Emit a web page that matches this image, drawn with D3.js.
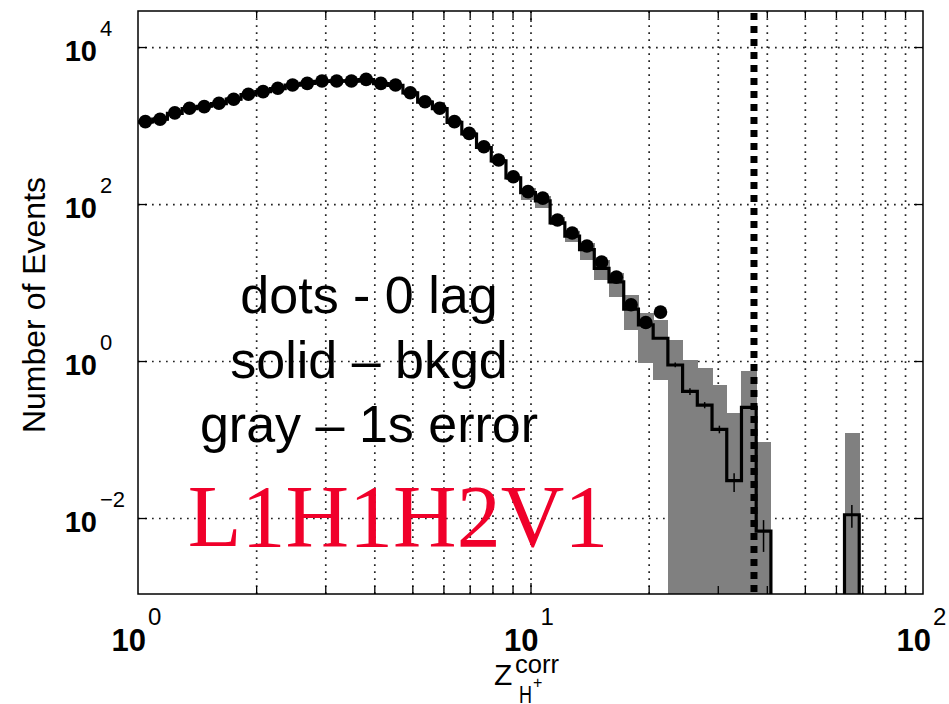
<!DOCTYPE html>
<html>
<head>
<meta charset="utf-8">
<script src="https://cdnjs.cloudflare.com/ajax/libs/d3/7.8.5/d3.min.js"></script>
<style>
  body { margin: 0; background: #fff; }
  svg { display: block; }
</style>
</head>
<body>
<div id="chart"></div>
<script>
// log10 width of one histogram bin, bins start at Z = 1
const binLog = 0.0375;

// dots - zero lag counts, one per bin
const zeroLag = [1120, 1200, 1450, 1660, 1740, 1920, 2160, 2500, 2700, 2980,
  3280, 3440, 3690, 3690, 3690, 3870, 3440, 3280, 2620, 2010,
  1660, 1120, 794, 537, 364, 223, 144, 119, 62.5, 42.8,
  29.2, 18.2, 11.7, 5.2, 3.1, 4.2];

// solid - background estimate
const background = [1110, 1210, 1430, 1640, 1760, 1900, 2170, 2480, 2710, 2960,
  3270, 3450, 3660, 3700, 3680, 3850, 3420, 3250, 2600, 1990,
  1640, 1100, 780, 525, 355, 215, 140, 110, 57.5, 38.9,
  26.3, 15.1, 10.2, 4.57, 2.88, 1.95, 0.89, 0.41, 0.275, 0.135,
  0.030, 0.257, 0.0068, 0, 0, 0, 0, 0, 0.011];

// gray - 1 sigma band
const bandHigh = [1170, 1270, 1500, 1720, 1850, 2000, 2280, 2600, 2850, 3110,
  3430, 3620, 3840, 3890, 3860, 4040, 3590, 3410, 2730, 2090,
  1720, 1160, 820, 555, 375, 230, 158, 126, 67.6, 45.7,
  31.6, 19.1, 13.2, 6.9, 4.07, 3.31, 1.86, 1.02, 0.81, 0.49,
  0.216, 0.74, 0.094, 0, 0, 0, 0, 0, 0.12];
const bandLow = [1050, 1150, 1360, 1560, 1670, 1800, 2060, 2360, 2570, 2810,
  3110, 3280, 3480, 3520, 3500, 3660, 3250, 3090, 2470, 1890,
  1560, 1045, 740, 500, 335, 203, 112, 89, 53.7, 33.1,
  19.5, 10.7, 6.6, 2.5, 0.95, 0.575, 0, 0, 0, 0,
  0, 0, 0, 0, 0, 0, 0, 0, 0];

// error bars drawn on the background line
const errBins = [36, 37, 38, 39, 40, 42, 48];
const errLow = [0.83, 0.37, 0.25, 0.12, 0.0214, 0.0037, 0.0075];
const errHigh = [0.96, 0.45, 0.30, 0.15, 0.0373, 0.0094, 0.0147];

const threshold = 37.1;

const xMajor = [1, 10, 100];
const xMinor = [2, 3, 4, 5, 6, 7, 8, 9, 20, 30, 40, 50, 60, 70, 80, 90];
const yTicks = [1e-2, 1, 1e2, 1e4];
const yExp = ['\u22122', '0', '2', '4'];
const xExp = ['0', '1', '2'];

var left = 138, right = 923, top_ = 11, bottom = 594;

var svg = d3.select('#chart').append('svg')
  .attr('width', 949)
  .attr('height', 704);

var x = d3.scaleLog().domain([1, 100]).range([left, right]);
var y = d3.scaleLog().domain([Math.pow(10, -2.968), Math.pow(10, 4.459)]).range([bottom, top_]);

function yv(v) { return v > 0 ? y(v) : bottom + 20; }
function edge(k) { return Math.pow(10, binLog * k); }
function center(k) { return Math.pow(10, binLog * (k + 0.5)); }

svg.append('clipPath').attr('id', 'plot')
  .append('rect')
    .attr('x', left).attr('y', top_)
    .attr('width', right - left).attr('height', bottom - top_);

// dotted grid
var grid = svg.append('g');
grid.append('g')
  .attr('transform', 'translate(0,' + bottom + ')')
  .call(d3.axisBottom(x).tickValues(xMinor.concat([10])).tickSize(-(bottom - top_)).tickFormat(''));
grid.append('g')
  .attr('transform', 'translate(' + left + ',0)')
  .call(d3.axisLeft(y).tickValues(yTicks).tickSize(-(right - left)).tickFormat(''));
grid.selectAll('.domain').remove();
grid.selectAll('line')
  .attr('stroke', '#222')
  .attr('stroke-width', 1.7)
  .attr('stroke-dasharray', '1.7,5.3');

var plot = svg.append('g').attr('clip-path', 'url(#plot)');

// gray error band
plot.selectAll('rect.band')
  .data(d3.range(background.length).filter(i => bandHigh[i] > 0))
  .enter()
  .append('rect')
    .attr('class', 'band')
    .attr('x', i => x(edge(i)))
    .attr('width', i => x(edge(i + 1)) - x(edge(i)) + 0.5)
    .attr('y', i => yv(bandHigh[i]))
    .attr('height', i => yv(bandLow[i]) - yv(bandHigh[i]))
    .attr('fill', '#808080')
    .attr('shape-rendering', 'crispEdges');

// background step line
var pts = background.map((d, i) => [edge(i), d]);
pts.push([edge(background.length), 0]);
var step = d3.line()
  .x(d => x(d[0]))
  .y(d => yv(d[1]))
  .curve(d3.curveStepAfter);
plot.append('path')
  .attr('d', step(pts))
  .attr('fill', 'none')
  .attr('stroke', '#000')
  .attr('stroke-width', 3.2);

// error bars
plot.selectAll('line.err')
  .data(errBins)
  .enter()
  .append('line')
    .attr('x1', (d) => x(center(d)))
    .attr('x2', (d) => x(center(d)))
    .attr('y1', (d, i) => y(errLow[i]))
    .attr('y2', (d, i) => y(errHigh[i]))
    .attr('stroke', '#000')
    .attr('stroke-width', 1.5);

// zero lag dots
plot.selectAll('circle')
  .data(zeroLag)
  .enter()
  .append('circle')
    .attr('cx', (d, i) => x(center(i)))
    .attr('cy', d => y(d))
    .attr('r', 6.8)
    .attr('fill', '#000');

// threshold
plot.append('line')
  .attr('x1', x(threshold)).attr('x2', x(threshold))
  .attr('y1', top_ + 2).attr('y2', bottom)
  .attr('stroke', '#000')
  .attr('stroke-width', 7)
  .attr('stroke-dasharray', '7,6');

// frame
svg.append('rect')
  .attr('x', left).attr('y', top_)
  .attr('width', right - left).attr('height', bottom - top_)
  .attr('fill', 'none')
  .attr('stroke', '#000')
  .attr('stroke-width', 1.5);

// inward ticks on all four sides
var ticks = svg.append('g');
ticks.append('g').attr('transform', 'translate(0,' + bottom + ')')
  .call(d3.axisBottom(x).tickValues(xMinor).tickSizeInner(-8).tickSizeOuter(0).tickFormat(''));
ticks.append('g').attr('transform', 'translate(0,' + top_ + ')')
  .call(d3.axisTop(x).tickValues(xMinor).tickSizeInner(-7).tickSizeOuter(0).tickFormat(''));
ticks.append('g').attr('transform', 'translate(0,' + bottom + ')')
  .call(d3.axisBottom(x).tickValues([10]).tickSizeInner(-11).tickSizeOuter(0).tickFormat(''));
ticks.append('g').attr('transform', 'translate(0,' + top_ + ')')
  .call(d3.axisTop(x).tickValues([10]).tickSizeInner(-11).tickSizeOuter(0).tickFormat(''));
ticks.append('g').attr('transform', 'translate(' + left + ',0)')
  .call(d3.axisLeft(y).tickValues(yTicks).tickSizeInner(-9).tickSizeOuter(0).tickFormat(''));
ticks.append('g').attr('transform', 'translate(' + right + ',0)')
  .call(d3.axisRight(y).tickValues(yTicks).tickSizeInner(-9).tickSizeOuter(0).tickFormat(''));
ticks.selectAll('.domain').remove();
ticks.selectAll('line').attr('stroke', '#000').attr('stroke-width', 1.3);

// tick labels: 10 with superscript exponent
var font = '"Liberation Sans", Arial, Helvetica, sans-serif';
yTicks.forEach(function (t, i) {
  svg.append('text')
    .attr('x', 97).attr('y', y(t) + 14)
    .attr('text-anchor', 'end')
    .style('font-family', font).style('font-weight', 'bold').style('font-size', '29px')
    .text('10');
  svg.append('text')
    .attr('x', 100).attr('y', y(t) - 11)
    .style('font-family', font).style('font-size', '22px')
    .text(yExp[i]);
});
xMajor.forEach(function (t, i) {
  svg.append('text')
    .attr('x', x(t) + 8).attr('y', 651)
    .attr('text-anchor', 'end')
    .style('font-family', font).style('font-weight', 'bold').style('font-size', '31px')
    .text('10');
  svg.append('text')
    .attr('x', x(t) + 10).attr('y', 625)
    .style('font-family', font).style('font-size', '24px')
    .text(xExp[i]);
});

// axis titles
svg.append('text')
  .attr('transform', 'translate(45,305) rotate(-90)')
  .attr('text-anchor', 'middle')
  .style('font-family', font).style('font-size', '32px')
  .text('Number of Events');

var xl = svg.append('g').style('font-family', font);
xl.append('text').attr('x', 494).attr('y', 685).style('font-size', '30px').text('Z');
xl.append('text').attr('x', 515).attr('y', 673).style('font-size', '25px')
  .attr('textLength', 44).attr('lengthAdjust', 'spacingAndGlyphs').text('corr');
xl.append('text').attr('x', 519).attr('y', 703).style('font-size', '23px')
  .attr('textLength', 13).attr('lengthAdjust', 'spacingAndGlyphs').text('H');
xl.append('text').attr('x', 533).attr('y', 688).style('font-size', '16px').text('+');

// annotations
var notes = ['dots - 0 lag', 'solid \u2013 bkgd', 'gray \u2013 1s error'];
var noteY = [313, 378, 442];
svg.selectAll('text.note')
  .data(notes)
  .enter()
  .append('text')
    .attr('class', 'note')
    .attr('x', 369)
    .attr('y', (d, i) => noteY[i])
    .attr('text-anchor', 'middle')
    .style('font-family', font)
    .style('font-size', '52px')
    .text(d => d);

svg.append('text')
  .attr('x', 398).attr('y', 546)
  .attr('text-anchor', 'middle')
  .style('font-family', '"Liberation Serif", "Times New Roman", serif')
  .style('font-size', '88px')
  .attr('fill', '#f0002a')
  .text('L1H1H2V1');
</script>
</body>
</html>
